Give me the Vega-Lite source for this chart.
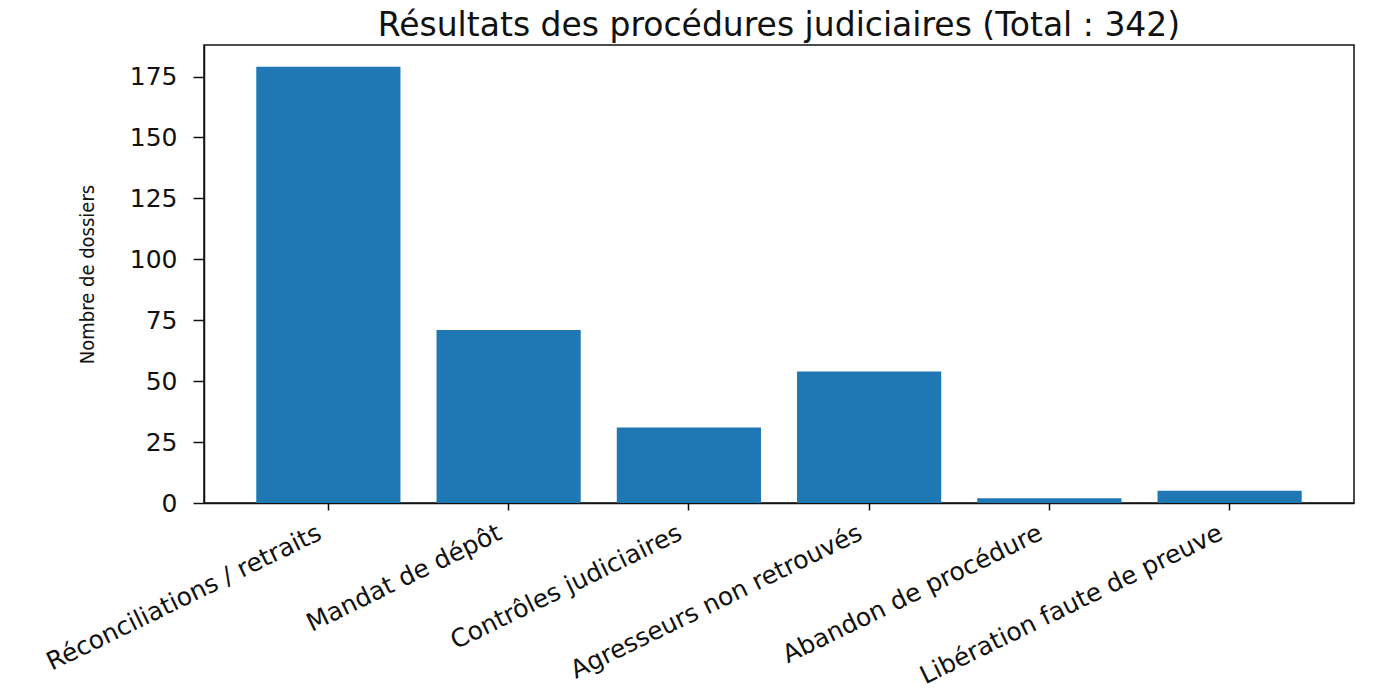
{
  "$schema": "https://vega.github.io/schema/vega-lite/v6.json",
  "width": 1150,
  "height": 458,
  "autosize": {"type": "none"},
  "padding": {"left": 204, "top": 45, "right": 23, "bottom": 196},
  "background": "white",
  "view": {"stroke": "#111111", "strokeWidth": 1.5},
  "title": {
    "text": "Résultats des procédures judiciaires (Total : 342)",
    "font": "DejaVu Sans",
    "fontSize": 33,
    "fontWeight": "normal",
    "color": "#111111",
    "anchor": "middle",
    "offset": 2
  },
  "data": {
    "values": [
      {"categorie": "Réconciliations / retraits", "dossiers": 179},
      {"categorie": "Mandat de dépôt", "dossiers": 71},
      {"categorie": "Contrôles judiciaires", "dossiers": 31},
      {"categorie": "Agresseurs non retrouvés", "dossiers": 54},
      {"categorie": "Abandon de procédure", "dossiers": 2},
      {"categorie": "Libération faute de preuve", "dossiers": 5}
    ]
  },
  "mark": {"type": "bar", "color": "#1f77b4"},
  "encoding": {
    "x": {
      "field": "categorie",
      "type": "nominal",
      "sort": null,
      "scale": {"paddingInner": 0.2, "paddingOuter": 0.29},
      "axis": {
        "title": null,
        "labelAngle": -26,
        "labelAlign": "right",
        "labelBaseline": "top",
        "labelFont": "DejaVu Sans",
        "labelFontSize": 25,
        "labelColor": "#111111",
        "labelPadding": 10,
        "labelOffset": -14,
        "labelLimit": 0,
        "tickSize": 7,
        "tickColor": "#111111",
        "tickWidth": 1.5,
        "domainColor": "#111111",
        "domainWidth": 1.5
      }
    },
    "y": {
      "field": "dossiers",
      "type": "quantitative",
      "scale": {"domain": [0, 187.95], "nice": false, "zero": true},
      "axis": {
        "title": "Nombre de dossiers",
        "titleFont": "DejaVu Sans Condensed, Liberation Sans, sans-serif",
        "titleFontSize": 20,
        "titleFontWeight": "normal",
        "titleColor": "#111111",
        "titlePadding": 32,
        "values": [0, 25, 50, 75, 100, 125, 150, 175],
        "grid": false,
        "labelFont": "DejaVu Sans",
        "labelFontSize": 25,
        "labelColor": "#111111",
        "labelPadding": 16,
        "tickSize": 11,
        "tickColor": "#111111",
        "tickWidth": 1.5,
        "domainColor": "#111111",
        "domainWidth": 1.5
      }
    }
  }
}
